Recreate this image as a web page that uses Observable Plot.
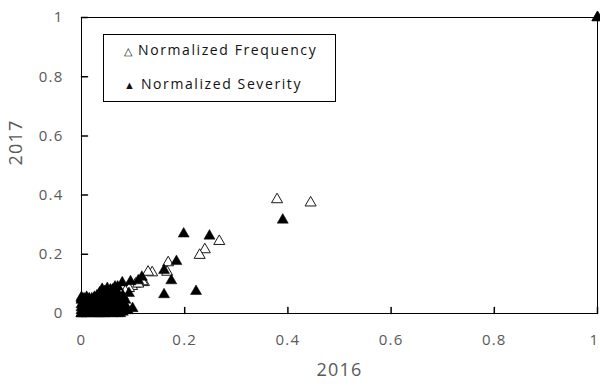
<!DOCTYPE html>
<html>
<head>
<meta charset="utf-8">
<script src="https://cdn.jsdelivr.net/npm/d3@7"></script>
<script src="https://cdn.jsdelivr.net/npm/@observablehq/plot@0.6"></script>
<style>
  html, body { margin: 0; padding: 0; background: #fff; }
  #wrap { position: relative; width: 600px; height: 386px; font-family: "Open Sans", sans-serif; }
  #legend {
    position: absolute; left: 103px; top: 34px; width: 231px; height: 66px;
    border: 1px solid #000; background: #fff; color: #111;
    font-size: 14px; letter-spacing: 1.6px;
  }
  #legend div { position: absolute; left: 20px; white-space: nowrap; }
  #legend span.sym { font-size: 11px; letter-spacing: 0; margin-right: 6px; }
</style>
</head>
<body>
<div id="wrap"></div>
<script>
// 2016 (x) vs 2017 (y) — normalized frequency (open) and severity (filled)
const freq2016 = [1, 0.379, 0.444, 0.267, 0.239, 0.229, 0.168, 0.166, 0.137, 0.129, 0.121, 0.105, 0.098, 0.092, 0.085, 0.076,
  0.118, 0.110, 0.070, 0.065, 0.060, 0.055, 0.050, 0.045, 0.040, 0.035, 0.030, 0.025, 0.020, 0.015, 0.010, 0.005, 0.000, 0.062, 0.048, 0.033];
const freq2017 = [1, 0.385, 0.374, 0.244, 0.216, 0.197, 0.172, 0.140, 0.138, 0.140, 0.105, 0.100, 0.092, 0.085, 0.075, 0.069,
  0.108, 0.100, 0.065, 0.060, 0.055, 0.050, 0.045, 0.040, 0.035, 0.030, 0.030, 0.022, 0.020, 0.012, 0.010, 0.005, 0.000, 0.045, 0.030, 0.020];

const sev2016 = [1, 0.390, 0.198, 0.248, 0.184, 0.160, 0.174, 0.160, 0.222, 0.117, 0.110, 0.079, 0.095, 0.092, 0.085, 0.056, 0.040, 0.065, 0.050,
  0.000, 0.000, 0.000, 0.000, 0.000, 0.005, 0.005, 0.005, 0.010, 0.010, 0.010, 0.010, 0.010, 0.015, 0.015, 0.015,
  0.020, 0.020, 0.020, 0.020, 0.025, 0.025, 0.025, 0.030, 0.030, 0.030, 0.030, 0.035, 0.035, 0.035,
  0.040, 0.040, 0.040, 0.040, 0.045, 0.045, 0.050, 0.050, 0.050, 0.050, 0.055, 0.055, 0.060, 0.060, 0.060,
  0.065, 0.065, 0.070, 0.070, 0.070, 0.075, 0.080, 0.080, 0.090, 0.099,
  0.000, 0.000, 0.005, 0.005, 0.010, 0.015, 0.015, 0.020, 0.020, 0.025, 0.025, 0.025, 0.030, 0.030, 0.030,
  0.035, 0.035, 0.035, 0.035, 0.040, 0.040, 0.040, 0.045, 0.045, 0.045, 0.045, 0.050, 0.050, 0.050,
  0.055, 0.055, 0.055, 0.060, 0.060, 0.060, 0.065, 0.065, 0.070, 0.070, 0.075, 0.075, 0.080, 0.085];
const sev2017 = [1, 0.316, 0.269, 0.262, 0.176, 0.146, 0.111, 0.064, 0.075, 0.123, 0.111, 0.104, 0.108, 0.068, 0.027, 0.080, 0.082, 0.090, 0.070,
  0.000, 0.010, 0.020, 0.030, 0.045, 0.050, 0.000, 0.020, 0.040, 0.055, 0.000, 0.015, 0.030, 0.050, 0.005, 0.035,
  0.050, 0.000, 0.020, 0.040, 0.055, 0.010, 0.030, 0.060, 0.000, 0.045, 0.020, 0.065, 0.010, 0.040,
  0.070, 0.000, 0.030, 0.050, 0.060, 0.015, 0.085, 0.000, 0.040, 0.020, 0.050, 0.005, 0.070, 0.000, 0.030,
  0.045, 0.010, 0.090, 0.000, 0.050, 0.020, 0.060, 0.005, 0.010, 0.017,
  0.050, 0.055, 0.035, 0.045, 0.045, 0.020, 0.045, 0.010, 0.030, 0.045, 0.000, 0.020, 0.010, 0.035, 0.055,
  0.000, 0.025, 0.055, 0.070, 0.010, 0.060, 0.075, 0.000, 0.030, 0.045, 0.075, 0.010, 0.030, 0.060,
  0.025, 0.040, 0.070, 0.010, 0.050, 0.080, 0.025, 0.060, 0.030, 0.070, 0.040, 0.000, 0.030, 0.045];

const ticks = [0, 0.2, 0.4, 0.6, 0.8, 1];
const tickLabels = ["0", "0.2", "0.4", "0.6", "0.8", "1"];
const seriesNames = ["Normalized Frequency", "Normalized Severity"];
const xTitle = "2016";
const yTitle = "2017";

const freq = freq2016.map((x, i) => ({x, y: freq2017[i]}));
const sev = sev2016.map((x, i) => ({x, y: sev2017[i]}));

const tickShape = {draw(ctx, l) { ctx.moveTo(0, 0); ctx.lineTo(0, -l); }};
const fmt = d => tickLabels[ticks.indexOf(d)];

const chart = Plot.plot({
  width: 600,
  height: 386,
  marginLeft: 81,
  marginRight: 3,
  marginTop: 17,
  marginBottom: 73,
  style: {fontFamily: "Open Sans, sans-serif", background: "#fff", overflow: "hidden", letterSpacing: "1.2px"},
  x: {domain: [0, 1]},
  y: {domain: [0, 1]},
  marks: [
    Plot.dot(freq, {x: "x", y: "y", symbol: "triangle", r: 4.1, fill: "#fff", stroke: "#1a1a1a", strokeWidth: 1}),
    Plot.dot(sev, {x: "x", y: "y", symbol: "triangle", r: 4.1, fill: "#000", stroke: "#000", strokeWidth: 0.5}),
    Plot.frame({stroke: "#000", strokeWidth: 1}),
    Plot.vector(ticks, {x: d => d, y: () => 0, length: 6, rotate: 0, anchor: "start", shape: tickShape, stroke: "#000"}),
    Plot.vector(ticks, {x: () => 0, y: d => d, length: 6, rotate: 90, anchor: "start", shape: tickShape, stroke: "#000"}),
    Plot.axisX(ticks.slice(0, -1), {tickSize: 0, tickPadding: 21, tickFormat: fmt, fontSize: 15, fill: "#595959", label: null}),
    Plot.axisX(ticks.slice(-1), {tickSize: 0, tickPadding: 21, tickFormat: fmt, fontSize: 15, fill: "#595959", label: null, dx: -3}),
    Plot.axisY(ticks, {tickSize: 0, tickPadding: 18, tickFormat: fmt, fontSize: 15, fill: "#595959", label: null}),
    Plot.text([xTitle], {text: d => d, frameAnchor: "bottom", dy: 62, fontSize: 18, fill: "#595959"}),
    Plot.text([yTitle], {text: d => d, frameAnchor: "left", dx: -65, rotate: -90, fontSize: 18, fill: "#595959"})
  ]
});

const wrap = document.getElementById("wrap");
wrap.appendChild(chart);
const legend = document.createElement("div");
legend.id = "legend";
legend.innerHTML = `<div style="top:5px"><span class="sym">\u25B3</span>${seriesNames[0]}</div><div style="top:39px"><span class="sym">\u25B2</span>${seriesNames[1]}</div>`;
wrap.appendChild(legend);
</script>
</body>
</html>
